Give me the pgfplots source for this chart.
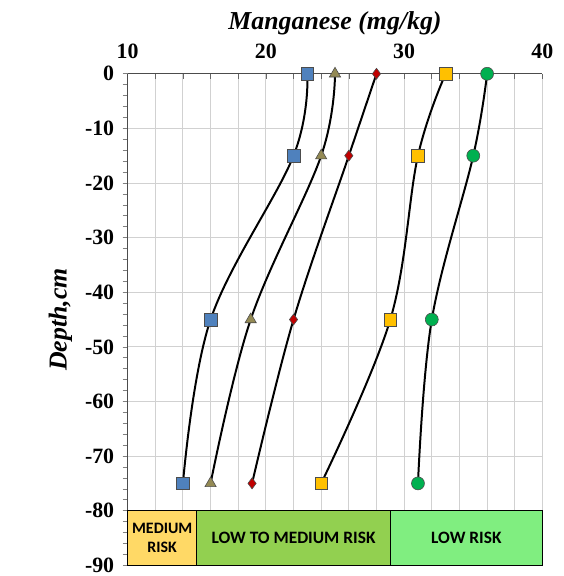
\documentclass[border=0pt]{standalone}
\usepackage{pgfplots}
\pgfplotsset{compat=1.18}
\usepackage{fontspec}
\setmainfont{Liberation Serif}
\newfontfamily\calibri{Carlito}
\definecolor{mblue}{HTML}{4F81BD}
\definecolor{molive}{HTML}{948A54}
\definecolor{mred}{HTML}{C00000}
\definecolor{myellow}{HTML}{FFC000}
\definecolor{mgreen}{HTML}{00B050}
\definecolor{zmed}{HTML}{FFD966}
\definecolor{zlowmed}{HTML}{92D050}
\definecolor{zlow}{HTML}{80EE80}
\begin{document}
\begin{tikzpicture}[x=1bp,y=1bp]
\begin{axis}[
  name=ax,
  scale only axis,
  width=416bp, height=493bp,
  xmin=10, xmax=40, ymin=-90, ymax=0,
  axis x line=top, axis y line=left,
  axis line style={-, black!70, line width=0.8pt},
  xtick={10,20,30,40},
  minor xtick={12,14,16,18,22,24,26,28,32,34,36,38},
  ytick={0,-10,...,-90},
  minor ytick={-2,-4,...,-88},
  xtick pos=top, ytick pos=left,
  x tick style={black!60, line width=0.6pt},
  xtick align=inside,
  ytick align=outside,
  y tick style={black!50, line width=0.6pt},
  major tick length=5bp, minor tick length=5bp,
  grid=both,
  xmajorgrids=true, xminorgrids=true,
  ymajorgrids=true, yminorgrids=false,
  major grid style={black!18, line width=0.9pt},
  minor grid style={black!18, line width=0.9pt},
  tick label style={font=\bfseries\fontsize{22}{22}\selectfont},
  /pgf/number format/assume math mode=true,
  xticklabel style={yshift=12bp},
  yticklabel style={xshift=-5bp},
  xlabel={\bfseries\itshape\fontsize{26}{26}\selectfont Manganese (mg/kg)},
  ylabel={\bfseries\itshape\fontsize{26}{26}\selectfont Depth,cm},
  xlabel style={yshift=2bp},
  ylabel style={yshift=6bp},
  clip=false,
]
% risk zones
\draw[black, line width=1.4pt, fill=zmed] (axis cs:10,-80) rectangle (axis cs:15,-90);
\draw[black, line width=1.4pt, fill=zlowmed] (axis cs:15,-80) rectangle (axis cs:29,-90);
\draw[black, line width=1.4pt, fill=zlow] (axis cs:29,-80) rectangle (axis cs:40,-90);
\node[font=\calibri\bfseries\fontsize{16}{18.5}\selectfont, align=center] at (axis cs:12.5,-85) {MEDIUM\\RISK};
\node[font=\calibri\bfseries\fontsize{17.5}{20}\selectfont] at (axis cs:22,-85) {LOW TO MEDIUM RISK};
\node[font=\calibri\bfseries\fontsize{17.5}{20}\selectfont] at (axis cs:34.5,-85) {LOW RISK};

\addplot[black, line width=2pt, smooth, tension=0.6, mark=square*, mark size=6.3bp,
  mark options={fill=mblue, draw=black!70, line width=0.6pt}]
  coordinates {(23,0) (22,-15) (16,-45) (14,-75)};
\addplot[black, line width=2pt, smooth, tension=0.6, mark=triangle*, mark size=6.5bp,
  mark options={fill=molive, draw=black!70, line width=0.6pt}]
  coordinates {(25,0) (24,-15) (18.9,-45) (16,-75)};
\addplot[black, line width=2pt, smooth, tension=0.6, mark=diamond*, mark size=5.5bp,
  mark options={fill=mred, draw=black!70, line width=0.6pt}]
  coordinates {(28,0) (26,-15) (22,-45) (19,-75)};
\addplot[black, line width=2pt, smooth, tension=0.6, mark=square*, mark size=6.3bp,
  mark options={fill=myellow, draw=black!70, line width=0.6pt}]
  coordinates {(33,0) (31,-15) (29,-45) (24,-75)};
\addplot[black, line width=2pt, smooth, tension=0.6, mark=*, mark size=6.5bp,
  mark options={fill=mgreen, draw=black!70, line width=0.6pt}]
  coordinates {(36,0) (35,-15) (32,-45) (31,-75)};
\end{axis}
\useasboundingbox ([xshift=-128bp,yshift=74bp]ax.north west) rectangle ([xshift=21bp,yshift=-9bp]ax.south east);
\end{tikzpicture}
\end{document}
